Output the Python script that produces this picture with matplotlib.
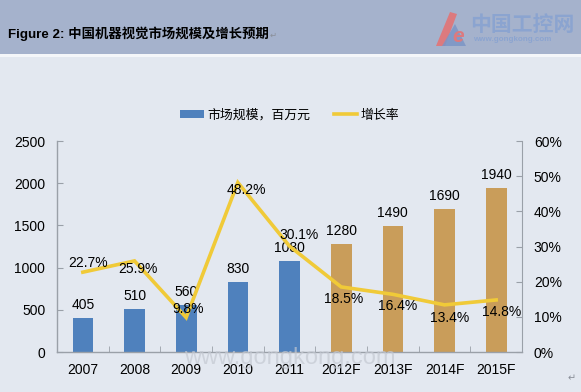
import matplotlib
matplotlib.use("Agg")
import matplotlib.pyplot as plt
from matplotlib.patches import Rectangle, Polygon
from matplotlib.lines import Line2D
import numpy as np

plt.rcParams['font.family'] = ['Liberation Sans', 'Noto Sans CJK SC', 'DejaVu Sans']

categories = ["2007", "2008", "2009", "2010", "2011", "2012F", "2013F", "2014F", "2015F"]
market_size = [405, 510, 560, 830, 1080, 1280, 1490, 1690, 1940]
growth = [22.7, 25.9, 9.8, 48.2, 30.1, 18.5, 16.4, 13.4, 14.8]
is_forecast = [False, False, False, False, False, True, True, True, True]
left_ticks = [0, 500, 1000, 1500, 2000, 2500]
right_ticks = [0, 10, 20, 30, 40, 50, 60]

# label offsets in pixels (dx, dy) relative to line points
pct_offsets = [(5, 9), (3, -8), (2, 9), (9, -8), (10, 11), (2, -12), (5, -12), (5, -13), (5, -12)]

W, H = 581, 392
fig = plt.figure(figsize=(W / 100, H / 100), dpi=100)
fig.patch.set_facecolor('#e3e8f0')

# header band
fig.add_artist(Rectangle((0, 1 - 54 / H), 1, 54 / H, transform=fig.transFigure,
                         facecolor='#a5b2cc', edgecolor='none', zorder=0))
fig.add_artist(Rectangle((0, 1 - 57 / H), 1, 3 / H, transform=fig.transFigure,
                         facecolor='#f4f6f9', edgecolor='none', zorder=0))
fig.text(8 / W, 1 - 38 / H, "Figure 2: 中国机器视觉市场规模及增长预期", fontsize=9.6,
         fontweight='bold', color='black', va='baseline', ha='left')
fig.text(270 / W, 1 - 38 / H, "↵", fontsize=6, color='#8a8f99', va='baseline',
         family=['DejaVu Sans'])

# logo
fig.add_artist(Polygon([(436 / W, 1 - 46 / H), (450 / W, 1 - 12 / H), (457 / W, 1 - 14 / H),
                        (445 / W, 1 - 46 / H)], closed=True, transform=fig.transFigure,
                       facecolor='#dc7a7e', edgecolor='none'))
fig.add_artist(Polygon([(442 / W, 1 - 46 / H), (455 / W, 1 - 24 / H), (466 / W, 1 - 46 / H)],
                       closed=True, transform=fig.transFigure,
                       facecolor='#7b95c6', edgecolor='none', alpha=0.85))
fig.text(452 / W, 1 - 42 / H, "e", fontsize=15, color='#dc7a7e', fontweight='bold',
         fontstyle='italic', va='baseline', ha='left')
fig.text(470 / W, 1 - 31 / H, "中国工控网", fontsize=15, color='#8ba4d0', fontweight='bold',
         va='baseline', ha='left', family=['Noto Sans CJK SC'])
fig.text(473 / W, 1 - 41 / H, "www.gongkong.com", fontsize=5.8, color='#8ba4d0',
         fontweight='bold', va='baseline', ha='left')

# axes
left, right, bottom, top = 57, 522, 352, 141
ax = fig.add_axes([left / W, (H - bottom) / H, (right - left) / W, (bottom - top) / H])
ax.set_facecolor('none')
x = np.arange(len(categories))
colors = ['#c99d5a' if f else '#4f81bd' for f in is_forecast]
bars = ax.bar(x, market_size, width=0.4, color=colors, zorder=2)
ax.set_xlim(-0.5, len(categories) - 0.5)
ax.set_ylim(0, 2500)
ax.set_yticks(left_ticks)
ax.set_yticklabels([str(t) for t in left_ticks])
ax.set_xticks(x)
ax.set_xticklabels(categories)
ax.set_xticks(np.arange(-0.5, len(categories), 1), minor=True)
ax.tick_params(axis='x', which='major', length=0, labelsize=10, pad=8)
ax.tick_params(axis='x', which='minor', length=4, color='#9aa0a8', direction='in')
ax.tick_params(axis='y', length=4, color='#9aa0a8', labelsize=10, pad=8.5, direction='in')
for s in ['top', 'right']:
    ax.spines[s].set_visible(False)
for s in ['left', 'bottom']:
    ax.spines[s].set_color('#9aa0a8')
    ax.spines[s].set_linewidth(1)

for xi, v in zip(x, market_size):
    ax.annotate(str(v), (xi, v), xytext=(0, 6), textcoords='offset pixels',
                ha='center', va='bottom', fontsize=10, zorder=5)

ax2 = ax.twinx()
ax2.set_ylim(0, 60)
ax2.set_yticks(right_ticks)
ax2.set_yticklabels([f"{t}%" for t in right_ticks])
ax2.tick_params(axis='y', length=4, color='#9aa0a8', labelsize=10, pad=8.5, direction='in')
for s in ['top', 'left', 'bottom']:
    ax2.spines[s].set_visible(False)
ax2.spines['right'].set_color('#9aa0a8')
ax2.plot(x, growth, color='#f0ca38', linewidth=2.6, zorder=3, solid_joinstyle='miter')
for xi, g, (dx, dy) in zip(x, growth, pct_offsets):
    ax2.annotate(f"{g}%", (xi, g), xytext=(dx, dy), textcoords='offset pixels',
                 ha='center', va='center', fontsize=10, zorder=6)

# legend
handles = [Rectangle((0, 0), 1, 1, facecolor='#4f81bd'),
           Line2D([0], [0], color='#f0ca38', linewidth=2.6)]
fig.legend(handles, ["市场规模，百万元", "增长率"], loc='center',
           bbox_to_anchor=(290 / W, 1 - 115 / H), ncol=2, frameon=False,
           handlelength=1.8, handleheight=0.5, columnspacing=1.8, handletextpad=0.3,
           prop={'family': ['Noto Sans CJK SC'], 'size': 9.3})

# watermark
fig.text(290 / W, 1 - 358 / H, "www.gongkong.com", fontsize=17, color='#c4c9d2',
         ha='center', va='center', alpha=0.7, zorder=10)
fig.text(572 / W, 1 - 378 / H, "↵", fontsize=7, color='#8a8f99', ha='center', va='center',
         family=['DejaVu Sans'])

fig.savefig("out.png", dpi=100, facecolor=fig.get_facecolor())
